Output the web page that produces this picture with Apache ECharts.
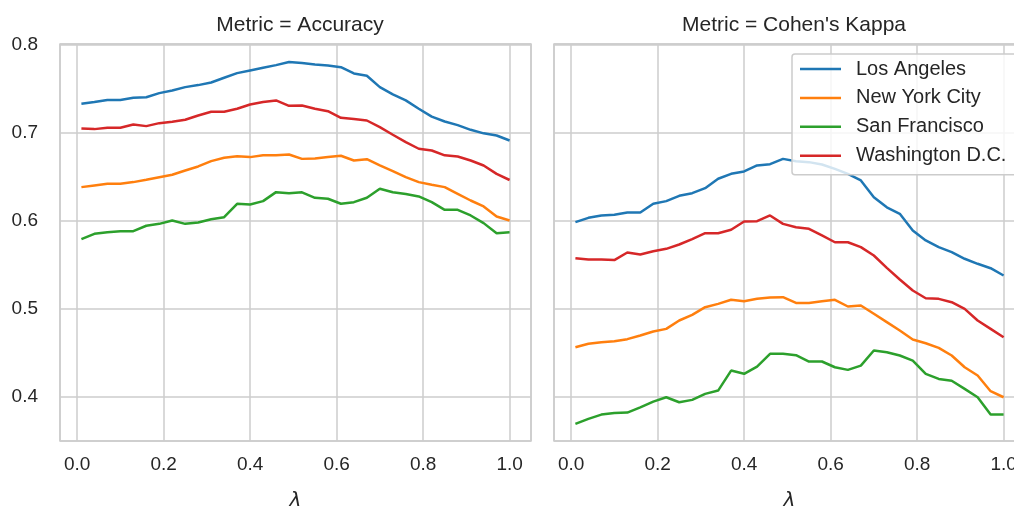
<!DOCTYPE html>
<html><head><meta charset="utf-8">
<script src="https://cdn.jsdelivr.net/npm/echarts@6/dist/echarts.min.js"></script>
<style>html,body{margin:0;padding:0;background:#fff}#c{width:1014px;height:508px}</style>
</head><body><div id="c"></div>
<script>
const lambdaVals = [0.01,0.04,0.07,0.10,0.13,0.16,0.19,0.22,0.25,0.28,0.31,0.34,0.37,0.40,0.43,0.46,0.49,0.52,0.55,0.58,0.61,0.64,0.67,0.70,0.73,0.76,0.79,0.82,0.85,0.88,0.91,0.94,0.97,1.00];
const cities = ["Los Angeles","New York City","San Francisco","Washington D.C."];
const colors = ["#1f77b4","#ff7f0e","#2ca02c","#d62728"];
const accLA  = [0.7326,0.7345,0.737,0.737,0.7394,0.740,0.7447,0.7477,0.7515,0.7538,0.7568,0.7622,0.7674,0.7705,0.7735,0.7765,0.780,0.7788,0.7773,0.776,0.7742,0.767,0.7644,0.7515,0.7432,0.7364,0.727,0.718,0.7125,0.7083,0.703,0.699,0.6966,0.6909];
const accNYC = [0.6379,0.6398,0.6417,0.6417,0.6436,0.6462,0.6492,0.6519,0.6568,0.6614,0.6674,0.6712,0.673,0.672,0.674,0.674,0.675,0.670,0.6705,0.672,0.6735,0.6682,0.6697,0.6625,0.656,0.6492,0.6436,0.6406,0.6379,0.6303,0.6227,0.616,0.6045,0.600];
const accSF  = [0.5788,0.5849,0.5867,0.5879,0.5879,0.594,0.5962,0.600,0.5962,0.5977,0.6015,0.6038,0.619,0.6182,0.622,0.6322,0.631,0.632,0.6258,0.6247,0.619,0.6208,0.6258,0.636,0.632,0.630,0.6273,0.6208,0.6121,0.6121,0.6057,0.597,0.5856,0.5867];
const accDC  = [0.7045,0.7038,0.7053,0.7053,0.709,0.7072,0.7106,0.7122,0.7144,0.7193,0.7235,0.7235,0.727,0.7318,0.7345,0.7364,0.7303,0.7307,0.727,0.7242,0.7167,0.7152,0.7136,0.706,0.6974,0.689,0.6815,0.6795,0.674,0.6727,0.6682,0.6625,0.653,0.646];
const kapLA  = [0.5981,0.603,0.6057,0.6065,0.609,0.609,0.619,0.622,0.628,0.631,0.6367,0.6474,0.653,0.6557,0.6625,0.664,0.670,0.6674,0.6663,0.6636,0.6587,0.653,0.6455,0.6265,0.615,0.6076,0.5886,0.5773,0.5697,0.564,0.5565,0.5508,0.5458,0.5375];
const kapNYC = [0.456,0.4599,0.4617,0.4629,0.4652,0.4693,0.4739,0.4769,0.4864,0.4928,0.5015,0.5053,0.5099,0.5083,0.511,0.5125,0.5129,0.5064,0.5064,0.5083,0.5099,0.5023,0.5034,0.494,0.4845,0.475,0.4648,0.4606,0.4553,0.4466,0.4333,0.4239,0.4061,0.3992];
const kapSF  = [0.369,0.3746,0.3795,0.3814,0.3818,0.3878,0.3943,0.3992,0.3935,0.3962,0.403,0.4068,0.4295,0.4258,0.434,0.4485,0.4485,0.447,0.4398,0.4398,0.4333,0.4303,0.4352,0.4523,0.4504,0.4466,0.4409,0.4258,0.42,0.418,0.4087,0.3992,0.3795,0.3795];
const kapDC  = [0.5572,0.5556,0.5556,0.555,0.5636,0.5614,0.565,0.5678,0.5727,0.5788,0.5856,0.5856,0.5894,0.5989,0.5992,0.6057,0.5962,0.5924,0.5905,0.583,0.5753,0.5753,0.5697,0.5602,0.5462,0.533,0.5205,0.5117,0.511,0.5072,0.4996,0.4864,0.4769,0.4674];
const panelTitles = ["Metric = Accuracy","Metric = Cohen's Kappa"];
const xTicks = [0,0.2,0.4,0.6,0.8,1.0];
const yTicks = [0.4,0.5,0.6,0.7,0.8];

const accSeries = [accLA, accNYC, accSF, accDC];
const kapSeries = [kapLA, kapNYC, kapSF, kapDC];
const FONT = "'Liberation Sans', Arial, sans-serif";
const TXT = '#262626';
const GRID = '#cccccc';

function near(v, ticks){ return ticks.some(t => Math.abs(v - t) < 1e-6); }

const grids = [
  {left: 60, top: 44, width: 471, height: 397, outerBoundsMode: 'none', containLabel: false, show: true, borderColor: GRID, borderWidth: 1.5, backgroundColor: 'transparent'},
  {left: 554, top: 44, width: 471, height: 397, outerBoundsMode: 'none', containLabel: false, show: true, borderColor: GRID, borderWidth: 1.5, backgroundColor: 'transparent'}
];
const xAxes = [0,1].map(i => ({
  type: 'value', gridIndex: i, min: -0.0395, max: 1.0495,
  axisLine: {show: false}, axisTick: {show: false},
  splitLine: {show: true, lineStyle: {color: GRID, width: 1.5}},
  axisLabel: {color: TXT, fontSize: 19, fontFamily: FONT, margin: 14,
    showMinLabel: false, showMaxLabel: false,
    formatter: v => near(v, xTicks) ? v.toFixed(1) : ''},
  name: 'λ', nameLocation: 'middle', nameGap: 50,
  nameTextStyle: {color: TXT, fontSize: 20, fontStyle: 'italic', fontFamily: "'DejaVu Sans', sans-serif"}
}));
const yAxes = [0,1].map(i => ({
  type: 'value', gridIndex: i, min: 0.3495, max: 0.8005,
  axisLine: {show: false}, axisTick: {show: false},
  splitLine: {show: true, lineStyle: {color: GRID, width: 1.5}},
  axisLabel: {show: i === 0, color: TXT, fontSize: 19, fontFamily: FONT, margin: 22,
    showMinLabel: false, showMaxLabel: false,
    formatter: v => near(v, yTicks) ? v.toFixed(1) : ''}
}));

const series = [];
[accSeries, kapSeries].forEach((set, gi) => {
  set.forEach((vals, si) => {
    series.push({
      name: cities[si], type: 'line', xAxisIndex: gi, yAxisIndex: gi,
      data: lambdaVals.map((x, k) => [x, vals[k]]),
      symbol: 'none', showSymbol: false, smooth: false, animation: false,
      lineStyle: {color: colors[si], width: 2.5},
      itemStyle: {color: colors[si]}
    });
  });
});

const chart = echarts.init(document.getElementById('c'), null, {renderer: 'canvas'});
chart.setOption({
  backgroundColor: '#ffffff',
  animation: false,
  title: [
    {text: panelTitles[0], left: 295, top: 10, textAlign: 'center', textStyle: {color: TXT, fontSize: 21, fontWeight: 'normal', fontFamily: FONT}},
    {text: panelTitles[1], left: 789, top: 10, textAlign: 'center', textStyle: {color: TXT, fontSize: 21, fontWeight: 'normal', fontFamily: FONT}}
  ],
  legend: {
    data: cities, orient: 'vertical', left: 792, top: 54,
    icon: 'rect',
    backgroundColor: 'rgba(255,255,255,0.8)', borderColor: GRID, borderWidth: 1.5, borderRadius: 3,
    padding: [5, 12, 9, 8], itemWidth: 41, itemHeight: 2.5, itemGap: 8.9,
    textStyle: {color: TXT, fontSize: 20, lineHeight: 20, fontFamily: FONT, padding: [0, 0, 0, 10]}
  },
  grid: grids, xAxis: xAxes, yAxis: yAxes, series: series
});
</script></body></html>
